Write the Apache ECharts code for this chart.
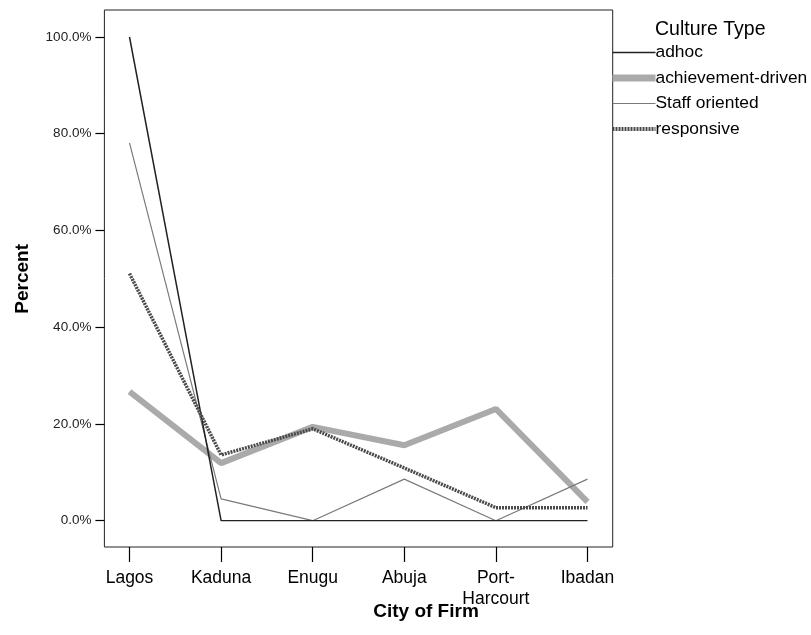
<!DOCTYPE html>
<html>
<head>
<meta charset="utf-8">
<script src="https://cdn.jsdelivr.net/npm/echarts@6/dist/echarts.min.js"></script>
<style>
  html, body { margin: 0; padding: 0; background: #fff; }
  #main { width: 811px; height: 635px; }
</style>
</head>
<body>
<div id="main"></div>
<script>
// cities on the x axis
var cities = ['Lagos', 'Kaduna', 'Enugu', 'Abuja', 'Port-\nHarcourt', 'Ibadan'];
// percent per culture type
var adhoc = [100, 0, 0, 0, 0, 0];
var achievementDriven = [26.7, 11.9, 19.4, 15.6, 23.1, 3.9];
var staffOriented = [78.1, 4.5, 0, 8.6, 0, 8.6];
var responsive = [51.1, 13.6, 19.0, 10.9, 2.7, 2.7];
var yTicks = [0, 20, 40, 60, 80, 100];

var FONT = 'Liberation Sans, Arial, sans-serif';
var chart = echarts.init(document.getElementById('main'));

function lineSeries(name, data, color, width, type, z){
	return {
		name: name,
		type: 'line',
		xAxisIndex: 1,
		yAxisIndex: 1,
		data: data,
		symbol: 'none',
		showSymbol: false,
		z: z,
		lineStyle: { color: color, width: width, type: type },
		itemStyle: { color: color }
	};
}

var option = {
	animation: false,
	title: {
		text: 'Culture Type',
		left: 655,
		top: 20,
		padding: 0,
		textStyle: { fontFamily: FONT, fontSize: 19.5, fontWeight: 'normal', color: '#000' }
	},
	legend: {
		orient: 'vertical',
		left: 609,
		top: 43.5,
		padding: 0,
		itemWidth: 43,
		itemHeight: 18,
		itemGap: 7.5,
		itemStyle: { opacity: 0 },
		lineStyle: { width: 'inherit' },
		textStyle: { fontFamily: FONT, fontSize: 17.4, color: '#000', lineHeight: 18, padding: [0, 0, 0, -5] },
		data: [
			{ name: 'adhoc', lineStyle: { width: 1.5 } },
			{ name: 'achievement-driven', lineStyle: { width: 7 } },
			{ name: 'Staff oriented', lineStyle: { width: 1.2 } },
			{ name: 'responsive', lineStyle: { width: 4 } }
		]
	},
	grid: [
		// outer frame
		{ left: 104.4, right: 198.3, top: 10, bottom: 88, show: true, borderColor: '#222', borderWidth: 1, backgroundColor: 'transparent' },
		// data area
		{ left: 129.5, right: 223.5, top: 37, bottom: 114.3 },
		// category ticks under the frame
		{ left: 129.5, right: 223.5, top: 10, bottom: 88 }
	],
	xAxis: [
		{ gridIndex: 0, type: 'value', show: false },
		{ gridIndex: 1, type: 'category', data: cities, boundaryGap: false, show: false },
		{
			gridIndex: 2,
			type: 'category',
			data: cities,
			boundaryGap: false,
			axisLine: { show: false },
			axisTick: { show: true, length: 15, lineStyle: { color: '#000', width: 1.2 } },
			axisLabel: { fontFamily: FONT, fontSize: 17.5, color: '#000', margin: 21, lineHeight: 21, interval: 0 }
		}
	],
	yAxis: [
		{ gridIndex: 0, type: 'value', show: false },
		{
			gridIndex: 1,
			type: 'value',
			min: yTicks[0],
			max: yTicks[yTicks.length - 1],
			interval: 20,
			offset: 25.1,
			axisLine: { show: false },
			splitLine: { show: false },
			axisTick: { show: true, length: 9, lineStyle: { color: '#000', width: 1.2 } },
			axisLabel: {
				fontFamily: FONT, fontSize: 13.5, color: '#222', margin: 13,
				formatter: function(v){ return v.toFixed(1) + '%'; }
			},
			name: 'Percent',
			nameLocation: 'middle',
			nameGap: 72,
			nameTextStyle: { fontFamily: FONT, fontSize: 19, fontWeight: 'bold', color: '#000' }
		},
		{ gridIndex: 2, type: 'value', show: false }
	],
	graphic: [
		{
			type: 'text',
			x: 426,
			y: 612,
			style: {
				text: 'City of Firm',
				font: 'bold 19px ' + FONT,
				fill: '#000',
				align: 'center',
				verticalAlign: 'middle'
			}
		}
	],
	series: [
		lineSeries('adhoc', adhoc, '#222', 1.5, 'solid', 4),
		lineSeries('achievement-driven', achievementDriven, '#aaaaaa', 6, 'solid', 2),
		lineSeries('Staff oriented', staffOriented, '#7a7a7a', 1.2, 'solid', 3),
		lineSeries('responsive', responsive, '#4a4a4a', 3.5, [2, 1], 5)
	]
};

chart.setOption(option);
</script>
</body>
</html>
